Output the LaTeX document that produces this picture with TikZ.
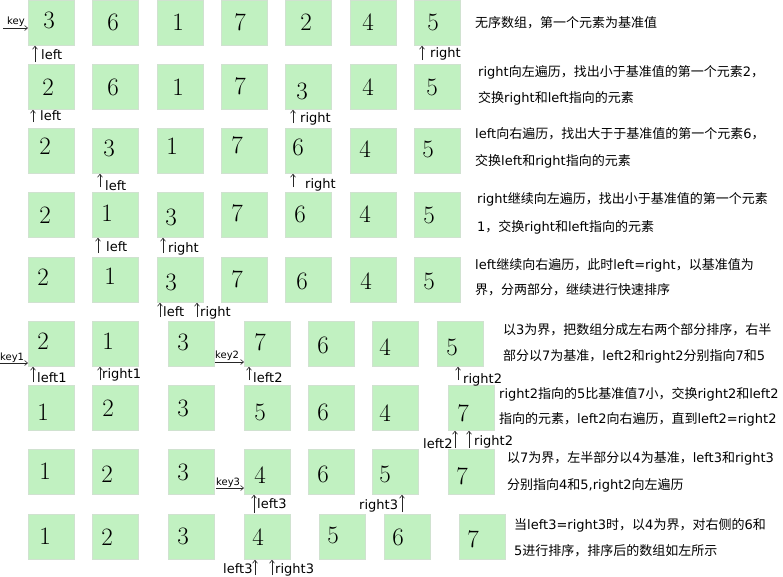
\documentclass[tikz,border=0pt]{standalone}
\usepackage{fontspec}
\newfontfamily\dv{DejaVu Sans}
\newfontfamily\cjk{Noto Sans CJK SC}
\usetikzlibrary{arrows.meta}
\definecolor{boxfill}{RGB}{193,241,193}
\definecolor{boxline}{RGB}{208,226,208}
\newcommand{\zh}[1]{{\cjk #1}}
\tikzset{
 cell/.style={draw=boxline, fill=boxfill, line width=0.8pt, minimum width=46pt, minimum height=45pt, inner sep=0pt, anchor=north west},
 num/.style={font=\fontsize{25}{25}\selectfont, inner sep=0pt},
 lab/.style={font=\dv\fontsize{13}{13}\selectfont, anchor=base west, inner sep=0pt},
 keylab/.style={font=\dv\fontsize{10}{10}\selectfont, anchor=base west, inner sep=0pt},
 desc/.style={font=\dv\fontsize{13}{13}\selectfont, anchor=base west, inner sep=0pt},
 ptr/.style={-{Straight Barb[length=3pt,width=5pt]}, line width=0.6pt, black!85},
}
\begin{document}
\begin{tikzpicture}[x=1pt,y=-1pt]
\useasboundingbox[fill=white] (0,0) rectangle (783,576);
% cells rows 1-5
\foreach \r/\t in {1/0,2/64,3/128,4/192,5/257}
  \foreach \x [count=\c] in {28,92,157,221,285,350,414}
    \node[cell] (r\r-\c) at (\x,\t) {};
% rows 6-9
\foreach \x [count=\c] in {28,92,168,244,308,372,437}
  \node[cell] (r6-\c) at (\x,321) {};
\foreach \x [count=\c] in {28,92,168,244,308,372,448}
  \node[cell] (r7-\c) at (\x,385) {};
\foreach \x [count=\c] in {28,92,168,244,308,372,448}
  \node[cell] (r8-\c) at (\x,449) {};
\foreach \x [count=\c] in {28,92,168,244,319,384,459}
  \node[cell] (r9-\c) at (\x,514) {};
% numbers
\foreach \x/\y/\v [count=\c] in {49/20/3,113/22/6,178/22/1,240/22/7,306/22/2,368/22/4,433/22/5}
  \node[num] (n1-\c) at (\x,\y) {\v};
\foreach \x/\y/\v [count=\c] in {48/87/2,113/87/6,178/87/1,240/86/7,302/91/3,368/87/4,432/87/5}
  \node[num] (n2-\c) at (\x,\y) {\v};
\foreach \x/\y/\v [count=\c] in {45/146/2,109/148/3,172/146/1,237/145/7,298/147/6,365/149/4,428/149/5}
  \node[num] (n3-\c) at (\x,\y) {\v};
\foreach \x/\y/\v [count=\c] in {45/215/2,107/213/1,171/217/3,237/213/7,300/214/6,365/214/4,429/215/5}
  \node[num] (n4-\c) at (\x,\y) {\v};
\foreach \x/\y/\v [count=\c] in {43/277/2,110/276/1,171/282/3,237/279/7,302/281/6,366/281/4,429/281/5}
  \node[num] (n5-\c) at (\x,\y) {\v};
\foreach \x/\y/\v [count=\c] in {43/341/2,108/341/1,183/342/3,260/342/7,323/345/6,385/347/4,452/347/5}
  \node[num] (n6-\c) at (\x,\y) {\v};
\foreach \x/\y/\v [count=\c] in {43/412/1,108/408/2,183/408/3,260/412/5,323/412/6,385/413/4,463/413/7}
  \node[num] (n7-\c) at (\x,\y) {\v};
\foreach \x/\y/\v [count=\c] in {45/471/1,107/474/2,183/472/3,260/475/4,323/474/6,385/474/5,462/476/7}
  \node[num] (n8-\c) at (\x,\y) {\v};
\foreach \x/\y/\v [count=\c] in {45/536/1,107/537/2,183/536/3,258/537/4,333/535/5,398/537/6,473/539/7}
  \node[num] (n9-\c) at (\x,\y) {\v};
% key arrows
\node[keylab] (kl0) at (7,24) {key};
\node[keylab] (kl1) at (0,360) {key1};
\node[keylab] (kl2) at (215,358) {key2};
\node[keylab] (kl3) at (216,485) {key3};
\coordinate (k0) at (3,28);
\coordinate (k1) at (0,363);
\coordinate (k2) at (215,362);
\coordinate (k3) at (216,488);
\draw[ptr] (k0) -- (k0 -| r1-1.west);
\draw[ptr] (k1) -- (k1 -| r6-1.west);
\draw[ptr] (k2) -- (k2 -| r6-4.west);
\draw[ptr] (k3) -- (k3 -| r8-4.west);
% pointer arrows
\foreach \n/\x/\y/\b in {p1a/35/62/r1-1, p1b/422/60/r1-7,
  p2a/33/122/r2-1, p2b/293/123/r2-5,
  p3a/100/187/r3-2, p3b/293/187/r3-5,
  p4a/98/253/r4-2, p4b/163/253/r4-3,
  p5a/160/317/r5-3, p5b/197/317/r5-3,
  p6a/33/382/r6-1, p6b/100/380/r6-2, p6c/249/380/r6-4, p6d/458/380/r6-7,
  p7a/455/448/r7-7, p7b/469/448/r7-7,
  p8a/254/513/r8-4, p8b/402/512/r8-6,
  p9a/255/575/r9-4, p9b/272/575/r9-4}
  {\coordinate (\n) at (\x,\y);
   \draw[ptr] (\n) -- (\n |- \b.south);}
% pointer labels
\node[lab] (l1a) at (41,59) {left};
\node[lab] (l1b) at (430,57) {right};
\node[lab] (l2a) at (40,120) {left};
\node[lab] (l2b) at (300,122) {right};
\node[lab] (l3a) at (105,190) {left};
\node[lab] (l3b) at (305,188) {right};
\node[lab] (l4a) at (106,251) {left};
\node[lab] (l4b) at (168,252) {right};
\node[lab] (l5a) at (163,316) {left};
\node[lab] (l5b) at (200,316) {right};
\node[lab] (l6a) at (37,382) {left1};
\node[lab] (l6b) at (102,378) {right1};
\node[lab] (l6c) at (253,382) {left2};
\node[lab] (l6d) at (463,383) {right2};
\node[lab] (l7a) at (423,448) {left2};
\node[lab] (l7b) at (474,445) {right2};
\node[lab] (l8a) at (257,508) {left3};
\node[lab] (l8b) at (359,509) {right3};
\node[lab] (l9a) at (223,573) {left3};
\node[lab] (l9b) at (275,573) {right3};
% descriptions
\node[desc] (d1) at (475,27) {\zh{无序数组，第一个元素为基准值}};
\node[desc] (d2a) at (478,76) {right\zh{向左遍历，找出小于基准值的第一个元素}2\zh{，}};
\node[desc] (d2b) at (478,102) {\zh{交换}right\zh{和}left\zh{指向的元素}};
\node[desc] (d3a) at (475,138) {left\zh{向右遍历，找出大于于基准值的第一个元素}6\zh{，}};
\node[desc] (d3b) at (475,165) {\zh{交换}left\zh{和}right\zh{指向的元素}};
\node[desc] (d4a) at (477,203) {right\zh{继续向左遍历，找出小于基准值的第一个元素}};
\node[desc] (d4b) at (477,231) {1\zh{，交换}right\zh{和}left\zh{指向的元素}};
\node[desc] (d5a) at (475,269) {left\zh{继续向右遍历，此时}left=right\zh{，以基准值为}};
\node[desc] (d5b) at (475,294) {\zh{界，分两部分，继续进行快速排序}};
\node[desc] (d6a) at (503,334) {\zh{以}3\zh{为界，把数组分成左右两个部分排序，右半}};
\node[desc] (d6b) at (503,360) {\zh{部分以}7\zh{为基准，}left2\zh{和}right2\zh{分别指向}7\zh{和}5};
\node[desc] (d7a) at (499,398) {right2\zh{指向的}5\zh{比基准值}7\zh{小，交换}right2\zh{和}left2};
\node[desc] (d7b) at (499,423) {\zh{指向的元素，}left2\zh{向右遍历，直到}left2=right2};
\node[desc] (d8a) at (507,462) {\zh{以}7\zh{为界，左半部分以}4\zh{为基准，}left3\zh{和}right3};
\node[desc] (d8b) at (507,489) {\zh{分别指向}4\zh{和}5,right2\zh{向左遍历}};
\node[desc] (d9a) at (514,529) {\zh{当}left3=right3\zh{时，以}4\zh{为界，对右侧的}6\zh{和}};
\node[desc] (d9b) at (514,555) {5\zh{进行排序，排序后的数组如左所示}};
\end{tikzpicture}
\end{document}
